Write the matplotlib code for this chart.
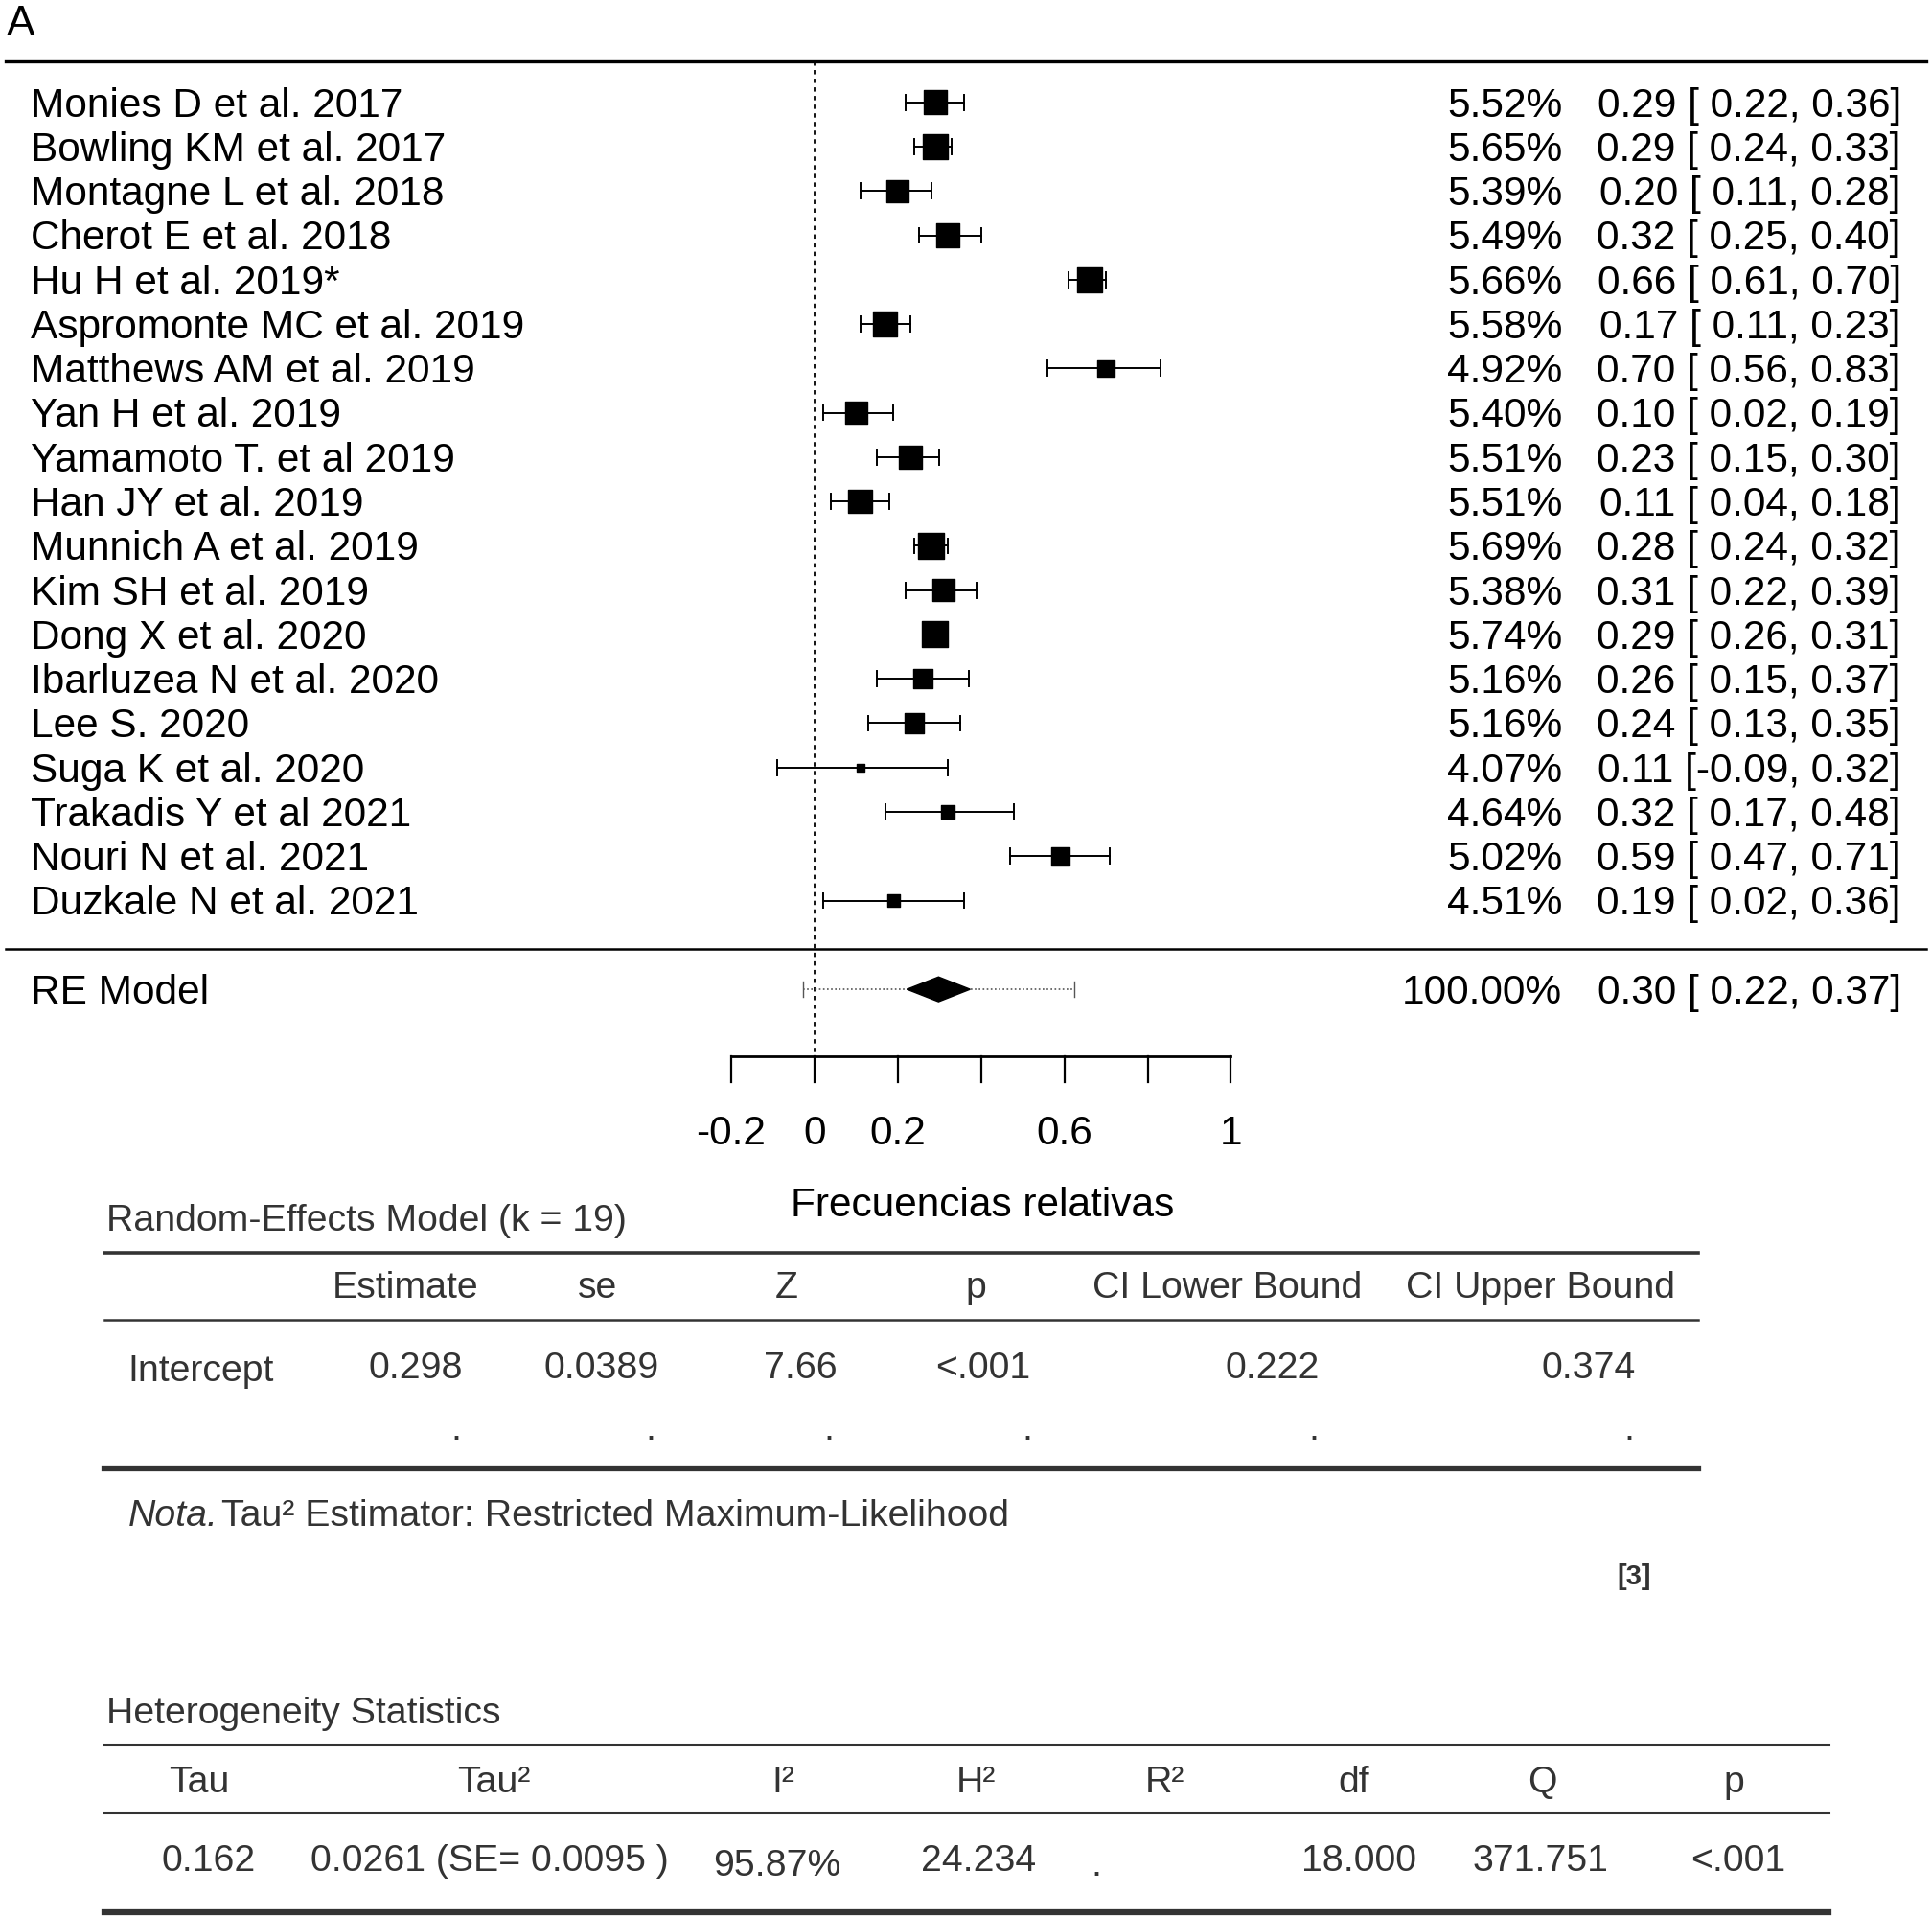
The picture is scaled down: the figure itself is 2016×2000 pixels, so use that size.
import numpy as np
import matplotlib
matplotlib.use('Agg')
import matplotlib.pyplot as plt
from matplotlib.patches import Polygon

plt.rcParams['font.family'] = ['Liberation Sans', 'DejaVu Sans']

# datos del forest plot
studies = ['Monies D et al. 2017', 'Bowling KM et al. 2017', 'Montagne L et al. 2018',
           'Cherot E et al. 2018', 'Hu H et al. 2019*', 'Aspromonte MC et al. 2019',
           'Matthews AM et al. 2019', 'Yan H et al. 2019', 'Yamamoto T. et al 2019',
           'Han JY et al. 2019', 'Munnich A et al. 2019', 'Kim SH et al. 2019',
           'Dong X et al. 2020', 'Ibarluzea N et al. 2020', 'Lee S. 2020',
           'Suga K et al. 2020', 'Trakadis Y et al 2021', 'Nouri N et al. 2021',
           'Duzkale N et al. 2021']
weights = [5.52, 5.65, 5.39, 5.49, 5.66, 5.58, 4.92, 5.40, 5.51, 5.51,
           5.69, 5.38, 5.74, 5.16, 5.16, 4.07, 4.64, 5.02, 4.51]
est = [0.29, 0.29, 0.20, 0.32, 0.66, 0.17, 0.70, 0.10, 0.23, 0.11,
       0.28, 0.31, 0.29, 0.26, 0.24, 0.11, 0.32, 0.59, 0.19]
ci_lo = [0.22, 0.24, 0.11, 0.25, 0.61, 0.11, 0.56, 0.02, 0.15, 0.04,
         0.24, 0.22, 0.26, 0.15, 0.13, -0.09, 0.17, 0.47, 0.02]
ci_hi = [0.36, 0.33, 0.28, 0.40, 0.70, 0.23, 0.83, 0.19, 0.30, 0.18,
         0.32, 0.39, 0.31, 0.37, 0.35, 0.32, 0.48, 0.71, 0.36]

re_est, re_lo, re_hi = 0.298, 0.222, 0.374
pi_lo, pi_hi = -0.028, 0.624

ticks = [-0.2, 0, 0.2, 0.4, 0.6, 0.8, 1]
tick_labels = ['-0.2', '0', '0.2', '', '0.6', '', '1']

# tabla random-effects
re_header = ['Estimate', 'se', 'Z', 'p', 'CI Lower Bound', 'CI Upper Bound']
re_values = ['0.298', '0.0389', '7.66', '<.001', '0.222', '0.374']

# tabla heterogeneidad
het_header = ['Tau', 'Tau²', 'I²', 'H²', 'R²', 'df', 'Q', 'p']
het_values = ['0.162', '0.0261 (SE= 0.0095 )', '95.87%', '24.234', '.', '18.000', '371.751', '<.001']

# geometria (pixeles de la imagen de referencia escalada)
W, H = 1568, 1556
X0, XS = 661, 338   # posicion de x=0 y pixeles por unidad
Y0, YS = 83, 36     # fila 0 y separacion entre filas
PT = 2016 / W * 0.72  # pixel -> puntos
DY = 3              # ajuste vertical del texto

fig = plt.figure(figsize=(20.16, 20), dpi=100)

# capa en pixeles para texto y lineas
ov = fig.add_axes([0, 0, 1, 1])
ov.set_xlim(0, W)
ov.set_ylim(H, 0)
ov.axis('off')

# capa de datos: x = frecuencia relativa, y = fila
ax = fig.add_axes([0, 0, 1, 1])
ax.set_xlim(-X0 / XS, (W - X0) / XS)
ax.set_ylim((H - Y0) / YS, -Y0 / YS)
ax.axis('off')
ax.patch.set_alpha(0)


def row(py):
    return (py - Y0) / YS


fs = 30.5
n = len(studies)
rows = np.arange(n)

ov.text(5, 20, 'A', fontsize=32, va='center', ha='left')

# lineas horizontales
ov.plot([5, 1563], [50, 50], color='black', lw=2.4)
ov.plot([5, 1563], [770, 770], color='black', lw=1.8)

# linea vertical en 0
ax.plot([0, 0], [row(50), row(857)], color='black', lw=1.3, ls=(0, (2.5, 2.5)))

# intervalos y cuadrados
cap = 0.17
for i in range(n):
    ax.plot([ci_lo[i], ci_hi[i]], [i, i], color='black', lw=1.4)
    for c in (ci_lo[i], ci_hi[i]):
        ax.plot([c, c], [i - cap, i + cap], color='black', lw=1.4)
w = np.array(weights)
side = 6 + (w - w.min()) / (w.max() - w.min()) * 15
ax.scatter(est, rows, s=(side * PT) ** 2, marker='s', color='black', zorder=3)

for i in range(n):
    y = Y0 + YS * i + DY
    ov.text(25, y, studies[i], fontsize=fs, va='center', ha='left')
    ov.text(1268, y, f'{weights[i]:.2f}%', fontsize=fs, va='center', ha='right')
    ov.text(1543, y, f'{est[i]:.2f} [{ci_lo[i]:5.2f}, {ci_hi[i]:.2f}]',
            fontsize=fs, va='center', ha='right')

# modelo RE
re_row = row(803)
ax.plot([pi_lo, pi_hi], [re_row, re_row], color='#555555', lw=1.2, ls=(0, (1, 1.5)))
for c in (pi_lo, pi_hi):
    ax.plot([c, c], [re_row - 0.17, re_row + 0.17], color='#555555', lw=1.0)
dh = 0.28
ax.add_patch(Polygon([(re_lo, re_row), (re_est, re_row - dh), (re_hi, re_row),
                      (re_est, re_row + dh)], closed=True, color='black', zorder=3))
ov.text(25, 803 + DY, 'RE Model', fontsize=fs, va='center', ha='left')
ov.text(1268, 803 + DY, '100.00%', fontsize=fs, va='center', ha='right')
ov.text(1543, 803 + DY, f'{re_est:.2f} [{re_lo:5.2f}, {re_hi:.2f}]',
        fontsize=fs, va='center', ha='right')

# eje x
ax.plot([ticks[0], ticks[-1]], [row(857), row(857)], color='black', lw=2.0)
for t, lab in zip(ticks, tick_labels):
    ax.plot([t, t], [row(857), row(878)], color='black', lw=1.6)
    if lab:
        ax.text(t, row(917 + DY), lab, fontsize=fs, va='center', ha='center')
ov.text(797, 976 + DY, 'Frecuencias relativas', fontsize=fs, va='center', ha='center')

# tabla 1
tc = '#333333'
tfs = 28.3
ov.text(86, 988 + DY, 'Random-Effects Model (k = 19)', fontsize=tfs, color=tc, va='center', ha='left')
ov.plot([85, 1378], [1017, 1017], color=tc, lw=2.6)
ov.plot([85, 1378], [1071, 1071], color=tc, lw=1.8)
ov.plot([85, 1378], [1192, 1192], color=tc, lw=4.5)
hx = [329, 485, 638, 792, 996, 1250]
vx = [337, 488, 650, 798, 1033, 1289]
dx = [370, 528, 673, 834, 1066, 1322]
for x, lab in zip(hx, re_header):
    ov.text(x, 1043 + DY, lab, fontsize=tfs, color=tc, va='center', ha='center')
ov.text(104, 1110 + DY, 'Intercept', fontsize=tfs, color=tc, va='center', ha='left')
for x, val in zip(vx, re_values):
    ov.text(x, 1108 + DY, val, fontsize=tfs, color=tc, va='center', ha='center')
for x in dx:
    ov.text(x, 1158 + DY, '.', fontsize=tfs, color=tc, va='center', ha='center')
ov.text(104, 1228 + DY, 'Nota.', fontsize=tfs, color=tc, va='center', ha='left', style='italic')
ov.text(180, 1228 + DY, 'Tau² Estimator: Restricted Maximum-Likelihood', fontsize=tfs,
        color=tc, va='center', ha='left')
ov.text(1326, 1280, '[3]', fontsize=21, color=tc, va='center', ha='center', weight='bold')

# tabla 2
ov.text(86, 1388 + DY, 'Heterogeneity Statistics', fontsize=tfs, color=tc, va='center', ha='left')
ov.plot([85, 1484], [1416, 1416], color=tc, lw=2.2)
ov.plot([85, 1484], [1471, 1471], color=tc, lw=2.2)
ov.plot([85, 1484], [1552, 1552], color=tc, lw=4.5)
hhx = [162, 401, 636, 792, 945, 1099, 1252, 1407]
hvx = [169, 397, 631, 794, 890, 1103, 1250, 1411]
hvy = [1508, 1508, 1512, 1508, 1512, 1508, 1508, 1508]
for x, lab in zip(hhx, het_header):
    ov.text(x, 1444 + DY, lab, fontsize=tfs, color=tc, va='center', ha='center')
for x, y, val in zip(hvx, hvy, het_values):
    ov.text(x, y + DY, val, fontsize=tfs, color=tc, va='center', ha='center')

fig.savefig('out.png', dpi=100)
plt.close(fig)
